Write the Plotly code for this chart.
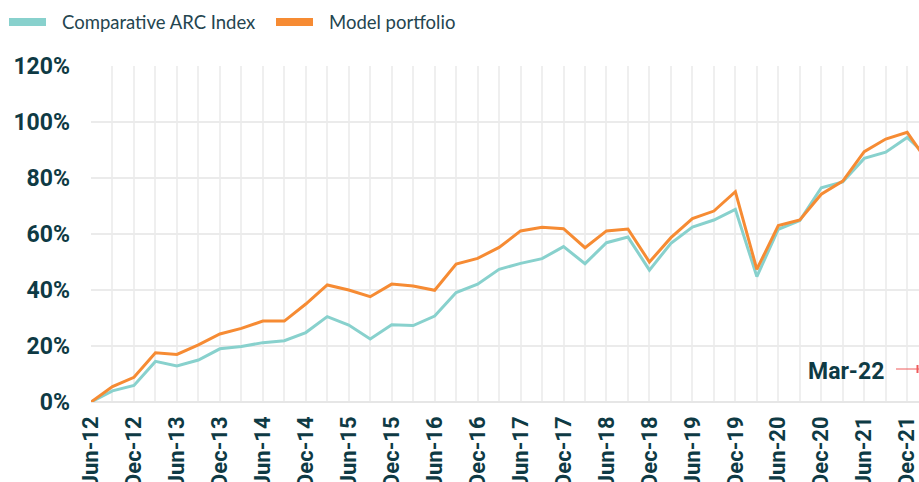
import plotly.graph_objects as go

quarters = ["Jun-12", "Sep-12", "Dec-12", "Mar-13", "Jun-13", "Sep-13", "Dec-13", "Mar-14",
            "Jun-14", "Sep-14", "Dec-14", "Mar-15", "Jun-15", "Sep-15", "Dec-15", "Mar-16",
            "Jun-16", "Sep-16", "Dec-16", "Mar-17", "Jun-17", "Sep-17", "Dec-17", "Mar-18",
            "Jun-18", "Sep-18", "Dec-18", "Mar-19", "Jun-19", "Sep-19", "Dec-19", "Mar-20",
            "Jun-20", "Sep-20", "Dec-20", "Mar-21", "Jun-21", "Sep-21", "Dec-21", "Mar-22"]

arc_index = [0, 4.0, 5.9, 14.5, 12.9, 15.0, 19.0, 19.8, 21.2, 21.9,
             24.8, 30.5, 27.5, 22.5, 27.6, 27.3, 30.7, 39.1, 42.1, 47.4,
             49.5, 51.2, 55.5, 49.4, 56.9, 58.9, 47.1, 56.7, 62.5, 65.0,
             68.8, 44.8, 61.7, 64.8, 76.5, 78.6, 87.0, 89.2, 94.5, 87.3]

model_portfolio = [0, 5.5, 8.8, 17.6, 17.0, 20.4, 24.3, 26.3, 28.9, 28.9,
                   35.0, 41.8, 40.0, 37.6, 42.1, 41.4, 39.9, 49.3, 51.3, 55.2,
                   61.1, 62.4, 61.9, 55.1, 61.1, 61.8, 50.0, 58.7, 65.5, 68.2,
                   75.1, 47.4, 63.0, 65.0, 74.2, 78.9, 89.4, 93.9, 96.3, 85.3]

y_ticks = [0, 20, 40, 60, 80, 100, 120]

TEAL = "#88D1CD"
ORANGE = "#F68B33"
DARK = "#0E3A44"
TICK_FONT = "Roboto, sans-serif"
LEG_FONT = "Lato, sans-serif"

x_idx = list(range(len(quarters)))
tick_idx = x_idx[::2]
tick_txt = quarters[::2]

fig = go.Figure()
fig.add_trace(go.Scatter(x=x_idx, y=arc_index, mode="lines", name="Comparative ARC Index",
                         line=dict(color=TEAL, width=3), showlegend=False))
fig.add_trace(go.Scatter(x=x_idx, y=model_portfolio, mode="lines", name="Model portfolio",
                         line=dict(color=ORANGE, width=3), showlegend=False))

W, H = 919, 482
ml, mr, mt, mb = 91, 0, 66, 80
pw, ph = W - ml - mr, H - mt - mb

def px_x(p):
    return (p - ml) / pw

def px_y(p):
    return (H - mb - p) / ph

shapes = []
annotations = []
# manual legend
for (x0, x1, tx, color, label) in [(9, 46, 60, TEAL, "Comparative ARC Index"),
                                   (276, 313, 327, ORANGE, "Model portfolio")]:
    shapes.append(dict(type="line", xref="paper", yref="paper",
                       x0=px_x(x0), x1=px_x(x1), y0=px_y(22), y1=px_y(22),
                       line=dict(color=color, width=8)))
    annotations.append(dict(xref="paper", yref="paper", x=px_x(tx), y=px_y(22),
                            xanchor="left", yanchor="middle", showarrow=False,
                            text=label, font=dict(family=LEG_FONT, size=18.5, color="#24454F")))

# Mar-22 callout
annotations.append(dict(xref="paper", yref="paper", x=px_x(846), y=px_y(371),
                        xanchor="center", yanchor="middle", showarrow=False,
                        text="<b>Mar-22</b>", font=dict(family=TICK_FONT, size=23, color=DARK)))
shapes.append(dict(type="line", xref="paper", yref="paper",
                   x0=px_x(896), x1=px_x(919), y0=px_y(369), y1=px_y(369),
                   line=dict(color="#EF5A5A", width=1)))
shapes.append(dict(type="line", xref="paper", yref="paper",
                   x0=px_x(917.5), x1=px_x(917.5), y0=px_y(365), y1=px_y(373),
                   line=dict(color="#EF5A5A", width=2)))

fig.update_layout(
    width=W, height=H,
    margin=dict(l=ml, r=mr, t=mt, b=mb),
    paper_bgcolor="white", plot_bgcolor="white",
    showlegend=False,
    shapes=shapes, annotations=annotations,
    xaxis=dict(range=[0, 38.55], tickmode="array", tickvals=tick_idx, ticktext=tick_txt,
               tickangle=-90, showgrid=True, gridcolor="#EFEFEF", gridwidth=1.5,
               minor=dict(tickmode="array", tickvals=x_idx, showgrid=True,
                          gridcolor="#EFEFEF", gridwidth=1.5),
               zeroline=False, showline=False, ticks="", automargin=False,
               ticklabeloverflow="allow",
               tickfont=dict(family=TICK_FONT, size=22, color=DARK, weight="bold"),
               ticklabelstandoff=9),
    yaxis=dict(range=[0, 120], tickmode="array", tickvals=y_ticks,
               ticktext=[f"{v}%" for v in y_ticks],
               showgrid=True, gridcolor="#EBEBEB", gridwidth=1.5,
               zeroline=True, zerolinecolor="#E6E6E6", zerolinewidth=2,
               showline=False, ticks="", automargin=False,
               tickfont=dict(family=TICK_FONT, size=23, color=DARK, weight="bold"),
               ticklabelstandoff=20),
)

fig.write_html("out.html", config={"displayModeBar": False},
               post_script="document.body.style.margin='0px';document.body.style.overflow='hidden';")
